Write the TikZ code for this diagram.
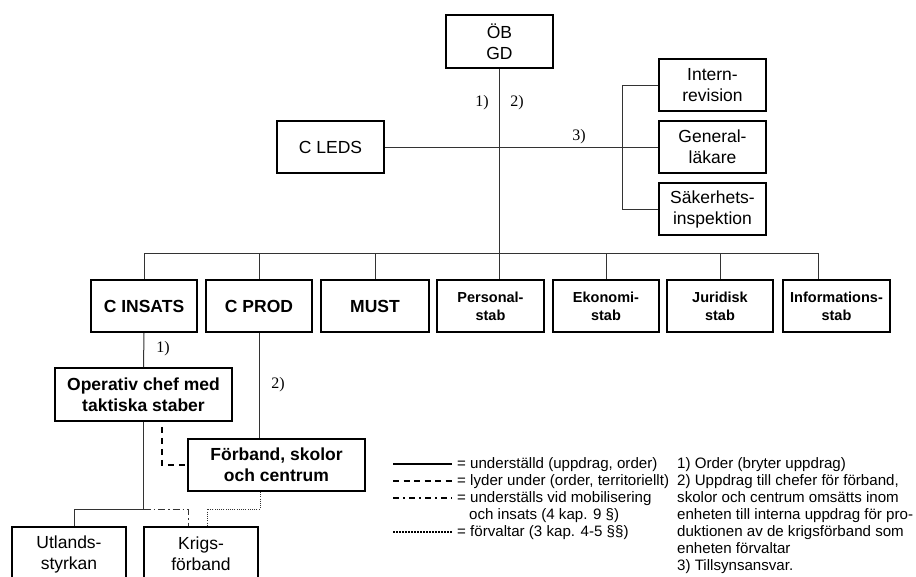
\documentclass[tikz,border=0pt]{standalone}
\usepackage{fontspec}
\setmainfont{Liberation Sans}
\newfontfamily\serifnum{Liberation Serif}
\begin{document}
\begin{tikzpicture}[x=1pt,y=-1pt,
  box/.style={draw=black, line width=1.8pt, inner sep=0pt, align=center,
    minimum width=107pt, minimum height=52pt,
    font=\fontsize{17.5}{21}\selectfont},
  boldbox/.style={box, font=\fontsize{17.5}{21}\selectfont\bfseries},
  staffbox/.style={box, font=\fontsize{14.5}{18}\selectfont\bfseries},
  link/.style={draw=black!80, line width=1pt},
  territorial/.style={draw=black, line width=1.6pt, dash pattern=on 6pt off 5pt},
  mobil/.style={draw=black!80, line width=1pt, dash pattern=on 7pt off 3pt on 1.5pt off 3pt},
  manage/.style={draw=black!80, line width=1pt, dash pattern=on 1pt off 1.2pt},
  lbl/.style={font=\serifnum\fontsize{16}{16}\selectfont, inner sep=0pt},
  legtext/.style={anchor=base west, inner sep=0pt, font=\fontsize{15.1}{17}\selectfont}
]
\useasboundingbox (0,0) rectangle (916,576);
\clip (0,0) rectangle (916,576);

% --- top level -------------------------------------------------------
\node[box, minimum height=53pt] (ob) at (499.5,41.5) {ÖB\\GD};
\node[box] (cleds) at (330.5,147) {C LEDS};
\node[box] (intern) at (712.5,85) {Intern-\\revision};
\node[box] (gen) at (712.5,147) {General-\\läkare};
\node[box] (sak) at (712.5,209) {Säkerhets-\\inspektion};

% --- second row ------------------------------------------------------
\node[boldbox, minimum width=106pt] (cins) at (144,306) {C INSATS};
\node[boldbox, minimum width=106pt] (cprod) at (259,306) {C PROD};
\node[boldbox, minimum width=108pt] (must) at (375,306) {MUST};
\node[staffbox] (pers) at (490.5,306) {Personal-\\stab};
\node[staffbox, minimum width=106pt] (eko) at (606,306) {Ekonomi-\\stab};
\node[staffbox, minimum width=106pt] (jur) at (720,306) {Juridisk\\stab};
\node[staffbox] (info) at (836.5,306) {Informations-\\stab};

% --- lower levels ----------------------------------------------------
\node[boldbox, minimum width=177pt, minimum height=53pt] (op) at (143.5,394.5) {Operativ chef med\\taktiska staber};
\node[boldbox, minimum width=177pt] (forb) at (276.5,465) {Förband, skolor\\och centrum};
\node[box, minimum width=114pt, minimum height=54pt] (utl) at (69,554) {Utlands-\\styrkan};
\node[box, minimum width=114pt, minimum height=54pt] (krigs) at (201,554) {Krigs-\\förband};

% --- helper coordinates ----------------------------------------------
\coordinate (bus) at (0,253);
\coordinate (lowbus) at (0,509);
\coordinate (infodrop) at ([xshift=-18.5pt]info.north);

% --- connectors, upper part ------------------------------------------
\draw[link] (ob.south) -- (ob.south |- pers.north);
\draw[link] (cleds.east) -- (gen.west);
\draw[link] (intern.west) -| ([xshift=-36pt]gen.west) |- (sak.west);
\draw[link] (cins.north |- bus) -- (infodrop |- bus);
\foreach \n in {cins,cprod,must,eko,jur}
  \draw[link] (\n.north) -- (\n.north |- bus);
\draw[link] (infodrop) -- (infodrop |- bus);

\node[lbl] (l1) at (482,103) {1)};
\node[lbl] (l2) at (517,103) {2)};
\node[lbl] (l3) at (579,137) {3)};

% --- connectors, lower part ------------------------------------------
\draw[link] (cins.south) -- (op.north);
\draw[link] (cprod.south) -- (cprod.south |- forb.north);
\node[lbl] (l4) at (163,349) {1)};
\node[lbl] (l5) at (278,385) {2)};

\draw[territorial] ([xshift=18.5pt,yshift=-5pt]op.south) |- (forb.west);
\draw[link] (op.south) -- (op.south |- lowbus) -| ([xshift=5pt]utl.north);
\draw[mobil] (op.south |- lowbus) -| ([xshift=-13pt]krigs.north);
\draw[manage] ([xshift=-16.5pt]forb.south) -- ([xshift=-16.5pt]forb.south |- lowbus)
  -| ([xshift=6pt]krigs.north);

% --- legend ----------------------------------------------------------
\coordinate (ka) at (393,464); \coordinate (kb) at (452,464);
\coordinate (kc) at (393,481); \coordinate (kd) at (452,481);
\coordinate (ke) at (393,498); \coordinate (kf) at (452,498);
\coordinate (kg) at (393,532); \coordinate (kh) at (452,532);
\draw[black, line width=2pt] (ka) -- (kb);
\draw[black, line width=2pt, dash pattern=on 6pt off 4.5pt] (kc) -- (kd);
\draw[black, line width=2pt, dash pattern=on 6pt off 4pt on 2pt off 4pt] (ke) -- (kf);
\draw[black, line width=1.5pt, dash pattern=on 1.5pt off 1.5pt] (kg) -- (kh);

\node[legtext] (t1) at (457,468) {= underställd (uppdrag, order)};
\node[legtext] (t2) at (457,485) {= lyder under (order, territoriellt)};
\node[legtext] (t3) at (457,502) {= underställs vid mobilisering};
\node[legtext] (t4) at (469,519) {och insats (4 kap. 9 §)};
\node[legtext] (t5) at (457,536) {= förvaltar (3 kap. 4-5 §§)};

% --- notes -----------------------------------------------------------
\foreach \txt [count=\i] in {
  1) Order (bryter uppdrag),
  {2) Uppdrag till chefer för förband,},
  skolor och centrum omsätts inom,
  enheten till interna uppdrag för pro-,
  duktionen av de krigsförband som,
  enheten förvaltar,
  3) Tillsynsansvar.}
  \node[legtext] (note\i) at (677,451+17*\i) {\txt};
\end{tikzpicture}
\end{document}
